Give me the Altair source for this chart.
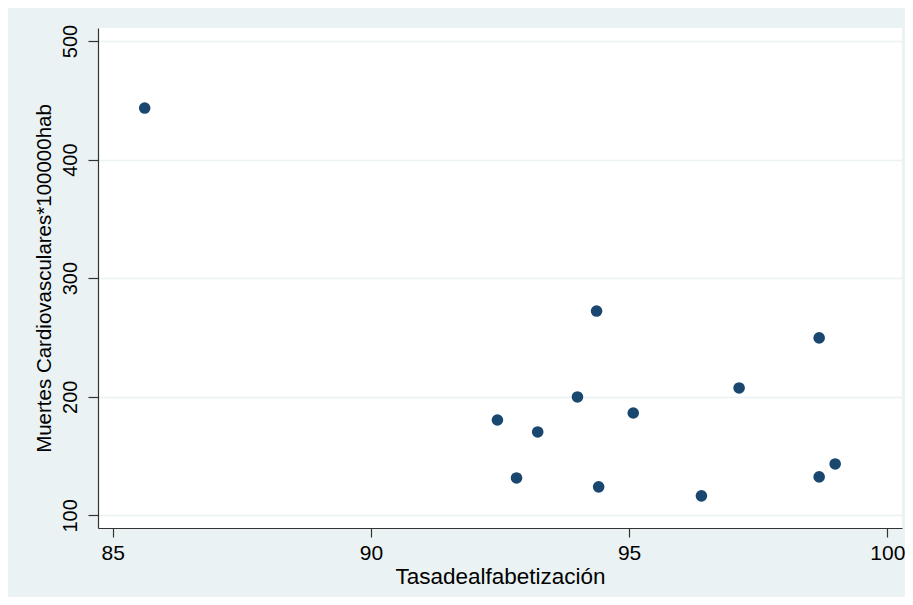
import altair as alt
import pandas as pd

tasa = [85.62, 94.37, 98.68, 97.13, 94.00, 95.08, 92.45, 93.23, 92.82, 94.41, 96.40, 98.68, 98.99]
muertes = [443.5, 272.3, 249.6, 207.4, 199.8, 186.3, 180.4, 170.3, 131.5, 124.0, 116.4, 132.4, 143.3]

x_ticks = [85, 90, 95, 100]
y_ticks = [100, 200, 300, 400, 500]

df = pd.DataFrame({"x": tasa, "y": muertes})

FONT = "Liberation Sans"

chart = alt.Chart(df).mark_circle(size=135, color="#1A476F", opacity=1).encode(
    x=alt.X("x:Q",
            scale=alt.Scale(domain=[84.716, 100.284], nice=False, zero=False),
            axis=alt.Axis(values=x_ticks, title="Tasadealfabetización", grid=False,
                          tickSize=9, labelPadding=5, titlePadding=2,
                          labelFontSize=21, titleFontSize=22.5,
                          format="d")),
    y=alt.Y("y:Q",
            scale=alt.Scale(domain=[89.3, 511.0], nice=False, zero=False),
            axis=alt.Axis(values=y_ticks, title="Muertes Cardiovasculares*100000hab",
                          grid=True, gridColor="#EAF2F3", gridWidth=1.5,
                          tickSize=10, labelAngle=270, labelAlign="center",
                          labelBaseline="bottom", labelPadding=8, titlePadding=6,
                          labelFontSize=20, titleFontSize=20.5,
                          format="d")),
).properties(
    width=804, height=500,
    autosize=alt.AutoSizeParams(type="none"),
    padding={"left": 90, "top": 20, "right": 3, "bottom": 69},
    background="#EAF2F3",
).configure_view(
    fill="white", stroke=None
).configure_axis(
    domainColor="#333333", tickColor="#333333", domainWidth=1.2, tickWidth=1.2,
    labelFont=FONT, titleFont=FONT,
    labelColor="#000000", titleColor="#000000", titleFontWeight="normal",
)

chart.save("out.html", embed_options={"renderer": "svg", "actions": False})
